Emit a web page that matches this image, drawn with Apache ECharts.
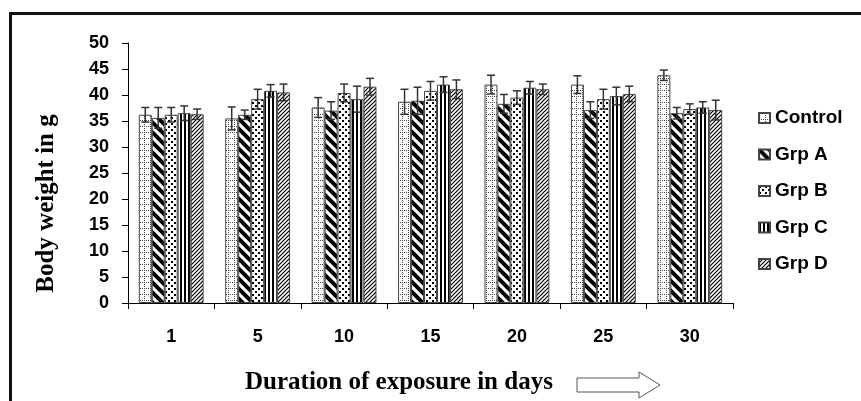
<!DOCTYPE html>
<html>
<head>
<meta charset="utf-8">
<script src="https://cdn.jsdelivr.net/npm/echarts@6/dist/echarts.min.js"></script>
<style>html,body{margin:0;padding:0;background:#fff}#chart{width:861px;height:401px}</style>
</head>
<body>
<div id="chart"></div>
<script>
const categories = ['1', '5', '10', '15', '20', '25', '30'];
const seriesNames = ['Control', 'Grp A', 'Grp B', 'Grp C', 'Grp D'];
const control    = [36.2, 35.5, 37.6, 38.7, 42.0, 42.0, 43.8];
const controlErr = [1.4, 2.2, 1.9, 2.4, 1.8, 1.7, 1.0];
const grpA       = [35.6, 36.2, 37.0, 38.9, 38.3, 37.1, 36.5];
const grpAErr    = [2.0, 0.9, 1.7, 2.6, 1.8, 1.6, 1.1];
const grpB       = [36.2, 39.2, 40.4, 40.8, 39.5, 39.2, 37.3];
const grpBErr    = [1.4, 1.9, 1.7, 1.8, 1.3, 1.9, 1.0];
const grpC       = [36.5, 40.8, 39.2, 42.0, 41.4, 39.8, 37.6];
const grpCErr    = [1.4, 1.2, 2.5, 1.5, 1.2, 1.7, 1.1];
const grpD       = [36.3, 40.5, 41.6, 41.1, 41.1, 40.2, 37.1];
const grpDErr    = [1.0, 1.6, 1.6, 1.8, 1.0, 1.5, 1.9];

const values = [control, grpA, grpB, grpC, grpD];
const errors = [controlErr, grpAErr, grpBErr, grpCErr, grpDErr];

function tile(w, h, draw) {
  const c = document.createElement('canvas');
  c.width = w; c.height = h;
  const ctx = c.getContext('2d');
  ctx.fillStyle = '#fff';
  ctx.fillRect(0, 0, w, h);
  draw(ctx);
  return { image: c, repeat: 'repeat' };
}
const patterns = [
  tile(6, 6, ctx => {
    ctx.fillStyle = '#444';
    for (let x = 0; x < 6; x += 2) ctx.fillRect(x, 0, 1, 1);
    for (let y = 0; y < 6; y += 2) ctx.fillRect(0, y, 1, 1);
  }),
  tile(10, 10, ctx => {
    ctx.strokeStyle = '#000'; ctx.lineWidth = 4;
    ctx.beginPath();
    ctx.moveTo(-3, -3); ctx.lineTo(13, 13);
    ctx.moveTo(-3, 7); ctx.lineTo(3, 13);
    ctx.moveTo(7, -3); ctx.lineTo(13, 3);
    ctx.stroke();
  }),
  tile(6, 6, ctx => {
    ctx.fillStyle = '#000';
    ctx.fillRect(0, 0, 2, 2);
    ctx.fillRect(3, 3, 2, 2);
  }),
  tile(4, 2, ctx => {
    ctx.fillStyle = '#000';
    ctx.fillRect(0, 0, 2, 2);
  }),
  tile(4, 4, ctx => {
    ctx.strokeStyle = '#000'; ctx.lineWidth = 1.2;
    ctx.beginPath();
    ctx.moveTo(0, 4); ctx.lineTo(4, 0);
    ctx.moveTo(-1, 1); ctx.lineTo(1, -1);
    ctx.moveTo(3, 5); ctx.lineTo(5, 3);
    ctx.stroke();
  })
];

const barSeries = seriesNames.map((name, i) => ({
  name: name,
  type: 'bar',
  data: values[i],
  barGap: '0%',
  barCategoryGap: '25%',
  itemStyle: { color: patterns[i], borderColor: '#444', borderWidth: 1 },
  emphasis: { disabled: true }
}));

const errData = [];
values.forEach((arr, gi) => {
  arr.forEach((v, ci) => {
    errData.push([ci, v - errors[gi][ci], v + errors[gi][ci], gi]);
  });
});

const errSeries = {
  type: 'custom',
  name: 'err',
  z: 10,
  silent: true,
  encode: { x: 0, y: [1, 2] },
  data: errData,
  renderItem: function (params, api) {
    const cat = api.value(0), lo = api.value(1), hi = api.value(2), gi = api.value(3);
    const bandW = api.size([1, 0])[0];
    const bw = bandW * 0.75 / 5;
    const off = (gi - 2) * bw;
    const pHi = api.coord([cat, hi]);
    const pLo = api.coord([cat, lo]);
    const x = pHi[0] + off;
    const cap = 4;
    const st = { stroke: '#333', lineWidth: 1.5 };
    return {
      type: 'group',
      children: [
        { type: 'line', shape: { x1: x, y1: pHi[1], x2: x, y2: pLo[1] }, style: st },
        { type: 'line', shape: { x1: x - cap, y1: pHi[1], x2: x + cap, y2: pHi[1] }, style: st },
        { type: 'line', shape: { x1: x - cap, y1: pLo[1], x2: x + cap, y2: pLo[1] }, style: st }
      ]
    };
  }
};

const chart = echarts.init(document.getElementById('chart'), null, { renderer: 'canvas' });
chart.setOption({
  animation: false,
  backgroundColor: '#fff',
  grid: { left: 128, right: 128, top: 43, bottom: 98 },
  legend: {
    data: seriesNames,
    orient: 'vertical',
    left: 753,
    top: 103,
    icon: 'rect',
    itemWidth: 11,
    itemHeight: 10,
    itemGap: 16.5,
    selectedMode: false,
    textStyle: { fontFamily: 'Liberation Sans', fontWeight: 'bold', fontSize: 19, color: '#000', lineHeight: 20, padding: [0, 0, 0, 0] }
  },
  xAxis: {
    type: 'category',
    data: categories,
    axisLine: { lineStyle: { color: '#000', width: 1 } },
    axisTick: { show: true, length: 6, lineStyle: { color: '#000' } },
    axisLabel: { margin: 25, fontFamily: 'Liberation Sans', fontWeight: 'bold', fontSize: 18, color: '#000' },
    splitLine: { show: false }
  },
  yAxis: {
    type: 'value',
    min: 0, max: 50, interval: 5,
    axisLine: { show: true, lineStyle: { color: '#000', width: 1 } },
    axisTick: { show: true, length: 6, lineStyle: { color: '#000' } },
    axisLabel: { margin: 19, fontFamily: 'Liberation Sans', fontWeight: 'bold', fontSize: 18, color: '#000' },
    splitLine: { show: false }
  },
  graphic: [
    { type: 'rect', shape: { x: 10.5, y: 13.5, width: 1000, height: 600 }, style: { fill: 'none', stroke: '#111', lineWidth: 3 }, silent: true },
    { type: 'text', x: 47, y: 203.5, rotation: Math.PI / 2,
      style: { text: 'Body weight in g', font: 'bold 25px "Liberation Serif"', fill: '#000', align: 'center', verticalAlign: 'middle' } },
    { type: 'text', x: 245, y: 383,
      style: { text: 'Duration of exposure in days', font: 'bold 25px "Liberation Serif"', fill: '#000', align: 'left', verticalAlign: 'middle' } },
    { type: 'polygon', shape: { points: [[577, 378], [639, 378], [639, 372], [660, 385], [639, 398], [639, 392], [577, 392]] },
      style: { fill: '#fff', stroke: '#555', lineWidth: 1 } }
  ],
  series: barSeries.concat([errSeries])
});
</script>
</body>
</html>
